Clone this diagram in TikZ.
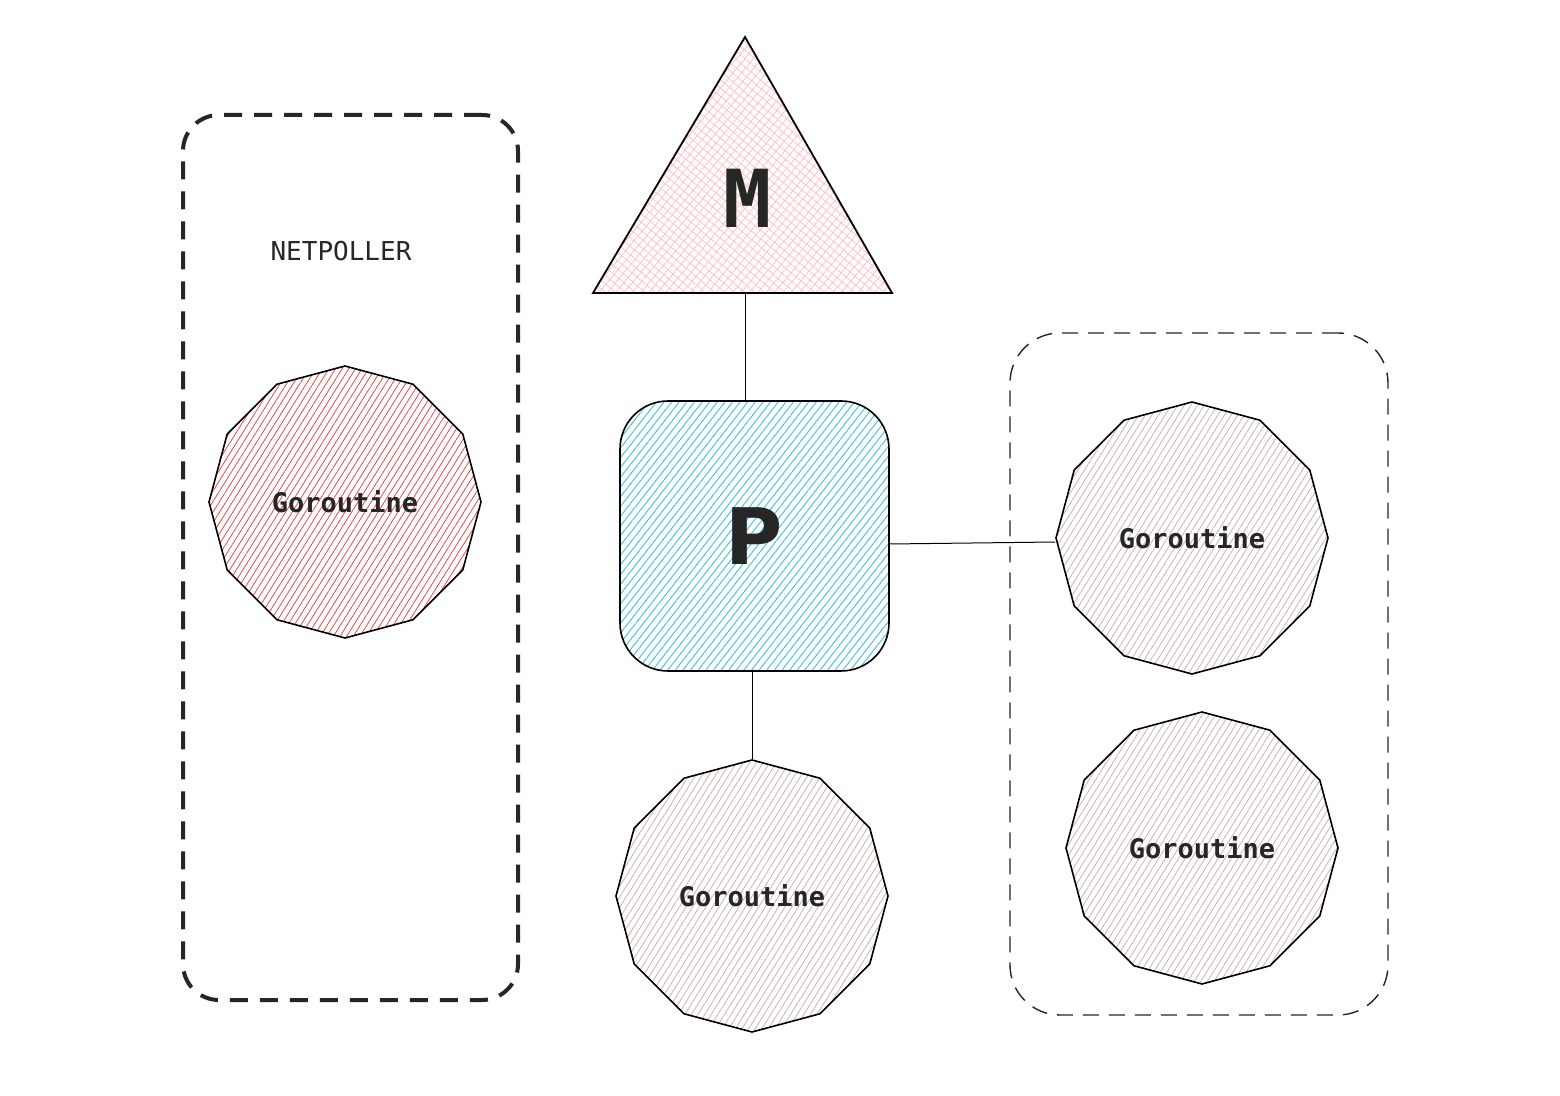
\documentclass[tikz,border=0pt]{standalone}
\usepackage{fontspec}
\usetikzlibrary{shapes.geometric,patterns.meta}
\newfontfamily\gofont{DejaVu Sans Mono}
\newfontfamily\psans{DejaVu Sans}
\definecolor{gored}{HTML}{E8484A}
\definecolor{gocyan}{HTML}{3BC4D8}
\definecolor{gopink}{HTML}{FFC2C2}
\definecolor{gobrown}{RGB}{206,178,170}
\begin{document}
\begin{tikzpicture}[x=0.5pt, y=-0.5pt,
    goroutine/.style={regular polygon, regular polygon sides=12, shape border rotate=15,
        draw=black, line width=0.8pt, inner sep=0pt, minimum size=136pt,
        font=\gofont\bfseries\fontsize{13.5}{16}\selectfont, text=black!85,
        pattern={Lines[angle=58,distance=2.8pt,line width=0.4pt]}, pattern color=gobrown},
    link/.style={draw=black, line width=0.5pt}]
    \useasboundingbox[fill=white] (0,0) rectangle (1560,1096);
    % groups
    \node[draw=black!85, line width=2pt, dash pattern=on 9pt off 6pt, rounded corners=18pt,
        minimum width=167.5pt, minimum height=442.5pt] (poller) at (350.5,557.5) {};
    \node[draw=black!85, line width=0.7pt, dash pattern=on 8pt off 5pt, rounded corners=25pt,
        minimum width=189pt, minimum height=341pt] (queue) at (1199,674) {};
    \node[font=\gofont\fontsize{13}{16}\selectfont, text=black!85] (title) at (341,251) {NETPOLLER};
    % M
    \path[pattern={Lines[angle=50,distance=3.2pt,line width=0.4pt]}, pattern color=gopink]
        (745,37) -- (892,293) -- (593,293) -- cycle;
    \draw[line width=0.9pt, pattern={Lines[angle=-40,distance=3.2pt,line width=0.4pt]}, pattern color=gopink]
        (745,37) -- (892,293) -- (593,293) -- cycle;
    \node[font=\gofont\bfseries\fontsize{40}{44}\selectfont, text=black!85] (M) at (748,198) {M};
    \coordinate (mbase) at (745,293);
    % P
    \node[draw=black, line width=0.8pt, rounded corners=24pt, minimum width=134.5pt, minimum height=135pt,
        pattern={Lines[angle=52,distance=3pt,line width=0.45pt]}, pattern color=gocyan,
        font=\psans\bfseries\fontsize{39}{44}\selectfont, text=black!85] (P) at (754.5,536) {P};
    % goroutines
    \node[goroutine, pattern color=gored] (gnet) at (345,502) {Goroutine};
    \node[goroutine] (grun) at (752,896) {Goroutine};
    \node[goroutine] (gq1) at (1192,538) {Goroutine};
    \node[goroutine] (gq2) at (1202,848) {Goroutine};
    % links
    \draw[link] (mbase) -- (mbase |- P.north);
    \draw[link] (grun.north |- P.south) -- (grun.north);
    \draw[link] ([yshift=-4pt]P.east) -- ([yshift=-2pt]gq1.west);
\end{tikzpicture}
\end{document}
